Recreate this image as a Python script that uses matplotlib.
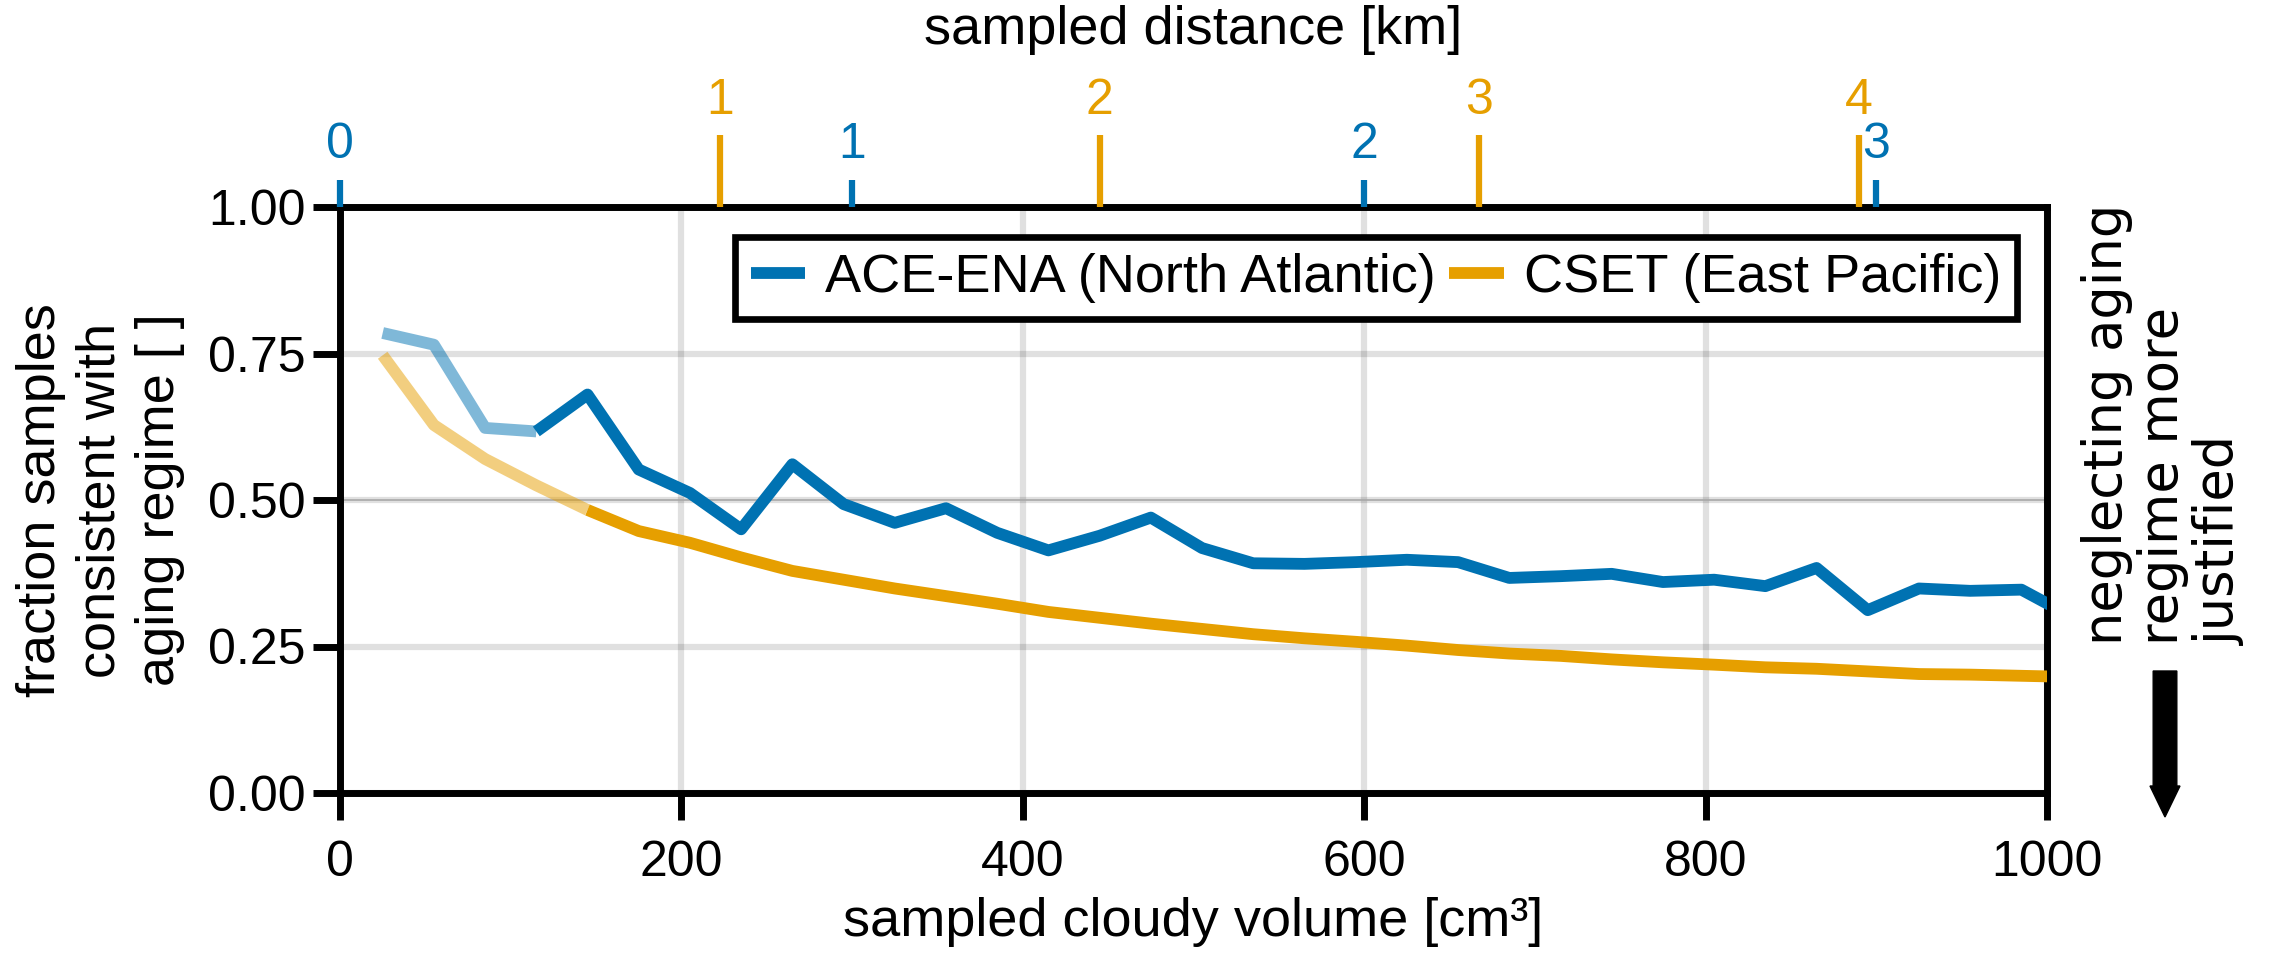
import numpy as np
import matplotlib
matplotlib.use("Agg")
import matplotlib.pyplot as plt
from matplotlib.patches import FancyArrow

# sampled cloudy volume bins [cm^3]
volume = [25, 55, 85, 115, 145, 175, 205, 235, 265, 295, 325, 355, 385, 415,
          445, 475, 505, 535, 565, 595, 625, 655, 685, 715, 745, 775, 805,
          835, 865, 895, 925, 955, 985, 1015]

# fraction of samples consistent with the aging regime
ace_ena = [0.785, 0.765, 0.623, 0.617, 0.680, 0.552, 0.512, 0.450, 0.561,
           0.493, 0.461, 0.486, 0.444, 0.414, 0.439, 0.470, 0.418, 0.392,
           0.391, 0.394, 0.398, 0.394, 0.367, 0.370, 0.374, 0.360, 0.364,
           0.353, 0.384, 0.312, 0.349, 0.345, 0.347, 0.300]
cset = [0.747, 0.628, 0.570, 0.525, 0.483, 0.447, 0.427, 0.402, 0.379,
        0.364, 0.349, 0.336, 0.323, 0.309, 0.299, 0.289, 0.280, 0.271,
        0.264, 0.258, 0.2515, 0.244, 0.238, 0.234, 0.228, 0.223, 0.219,
        0.2145, 0.212, 0.2075, 0.203, 0.202, 0.200, 0.198]

# bins with too few samples are shown faded (index of first reliable bin)
ace_ena_first_ok = 3
cset_first_ok = 4

# sampled distance axis: volume per km flown for each campaign
ace_ena_cm3_per_km = 300.0
cset_cm3_per_km = 222.5
ace_ena_km_ticks = [0, 1, 2, 3]
cset_km_ticks = [1, 2, 3, 4]

x_ticks = [0, 200, 400, 600, 800, 1000]
y_ticks = [0.0, 0.25, 0.5, 0.75, 1.0]

blue = "#0072B2"
orange = "#E69F00"
labels = ["ACE-ENA (North Atlantic)", "CSET (East Pacific)"]

plt.rcParams["font.family"] = ["Liberation Sans", "DejaVu Sans"]
TICK_FS = 36
LABEL_FS = 39

W, H = 2270, 960
fig = plt.figure(figsize=(W / 100, H / 100), dpi=100)
ax = fig.add_axes([340 / W, 1 - 793 / H, (2047 - 340) / W, (793 - 207) / H])

lw = 8.5
x = np.array(volume)
for ys, c, k, lab in [(ace_ena, blue, ace_ena_first_ok, labels[0]),
                      (cset, orange, cset_first_ok, labels[1])]:
    ys = np.array(ys)
    ax.plot(x[:k + 1], ys[:k + 1], color=c, lw=lw, alpha=0.5,
            solid_capstyle="butt", zorder=3)
    ax.plot(x[k:], ys[k:], color=c, lw=lw, solid_capstyle="butt",
            label=lab, zorder=4)

ax.set_xlim(0, 1000)
ax.set_ylim(0, 1)
ax.set_xticks(x_ticks)
ax.set_xticklabels([str(v) for v in x_ticks], fontsize=TICK_FS)
ax.set_yticks(y_ticks)
ax.set_yticklabels([f"{v:.2f}" for v in y_ticks], fontsize=TICK_FS)
ax.grid(True, color="#000000", alpha=0.12, lw=4.5, zorder=1)
ax.set_axisbelow(True)
ax.axhline(0.5, color="#a8a8a8", lw=1.2, zorder=2)

for s in ax.spines.values():
    s.set_linewidth(5)
ax.tick_params(axis="both", width=5, length=19.5, direction="out")
ax.tick_params(axis="x", pad=14)
ax.tick_params(axis="y", pad=5.5)

ax.set_xlabel("sampled cloudy volume [cm³]", fontsize=LABEL_FS, labelpad=8)
ax.set_ylabel("fraction samples\nconsistent with\naging regime [ ]",
              fontsize=LABEL_FS, labelpad=16, linespacing=1.25)

leg = ax.legend(loc="upper right", ncol=2, frameon=True, fancybox=False,
                framealpha=1, edgecolor="black", fontsize=LABEL_FS,
                borderaxespad=0.55, handlelength=1.0, handletextpad=0.37,
                columnspacing=0.25, borderpad=0.3)
leg.get_frame().set_linewidth(4.8)
for h in leg.get_lines():
    h.set_linewidth(lw)

# top axes: sampled distance for each campaign
top_b = ax.twiny()
top_b.set_xlim(ax.get_xlim())
top_b.set_xticks([k * ace_ena_cm3_per_km for k in ace_ena_km_ticks])
top_b.set_xticklabels([str(k) for k in ace_ena_km_ticks], fontsize=TICK_FS)
top_b.tick_params(axis="x", colors=blue, width=4.5, length=19.5, pad=8.5)
for s in top_b.spines.values():
    s.set_visible(False)

top_o = ax.twiny()
top_o.set_xlim(ax.get_xlim())
top_o.set_xticks([k * cset_cm3_per_km for k in cset_km_ticks])
top_o.set_xticklabels([str(k) for k in cset_km_ticks], fontsize=TICK_FS)
top_o.tick_params(axis="x", colors=orange, width=4.5, length=51.5, pad=8.5)
for s in top_o.spines.values():
    s.set_visible(False)
top_o.set_xlabel("sampled distance [km]", fontsize=LABEL_FS, labelpad=24)

# annotation to the right of the axes
fig.text(2163 / W, 1 - 204 / H,
         "neglecting aging\nregime more\njustified",
         rotation=90, ha="center", va="top", multialignment="left",
         family=["DejaVu Sans"], fontsize=38, linespacing=1.1)
head_len = 31
fig.patches.append(FancyArrow(
    2165 / W, 1 - 671 / H, 0, -(817 - 671 - head_len) / H,
    width=10 / H, head_width=30 / W, head_length=head_len / H,
    length_includes_head=False, color="black", transform=fig.transFigure,
    figure=fig))

fig.savefig("out.png", dpi=100)
